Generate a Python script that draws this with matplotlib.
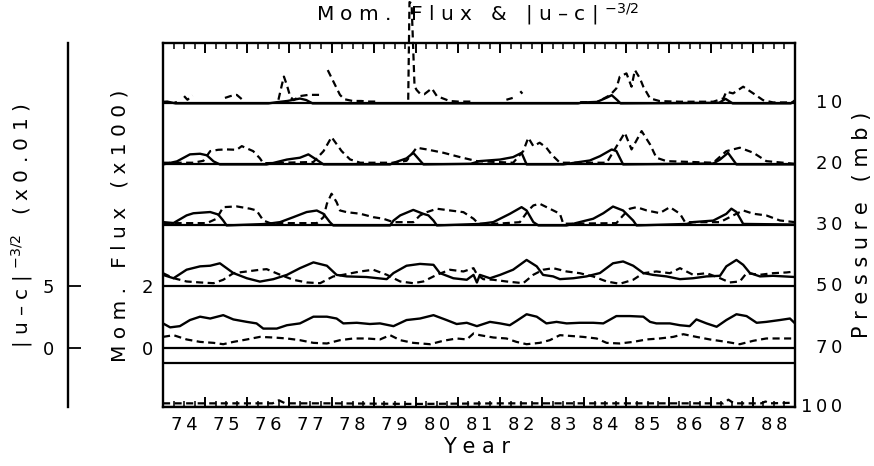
import numpy as np
import matplotlib
matplotlib.use("Agg")
from matplotlib import pyplot as plt

nan = np.nan

# pressure levels (mb), top panel first
LEVELS = ["10", "20", "30", "50", "70", "100"]
YEARS = list(range(1974, 1989))

# 10 mb
t_flux10 = [1974.0, 1974.1, 1974.3, 1976.5, 1976.7, 1976.95, 1977.25, 1977.4, 1977.55, 1983.85, 1983.95,
            1984.3, 1984.55, 1984.65, 1984.78, 1984.86, 1987.2, 1987.35, 1987.52, 1988.9, 1989.0]
flux10 = [0.05, 0.06, 0.0, 0.0, 0.04, 0.08, 0.16, 0.11, 0.0, 0.0, 0.03,
          0.05, 0.2, 0.27, 0.11, 0.0, 0.02, 0.15, 0.0, 0.0, 0.1]
t_uc10 = [1974.0, 1974.2, 1974.33, nan, 1974.5, 1974.58, 1974.7, nan, 1975.47, 1975.6, 1975.75, 1975.87, nan,
          1976.74, 1976.82, 1976.87, 1976.94, 1977.02, 1977.1, 1977.25, 1977.45, 1977.73, nan,
          1977.91, 1978.0, 1978.1, 1978.2, 1978.3, 1978.5, 1978.7, 1978.9, 1979.07, nan,
          1979.82, 1979.85, 1979.9, 1979.97, 1980.02, 1980.1, 1980.2, 1980.38, 1980.5, 1980.65, 1980.8,
          1981.0, 1981.2, 1981.4, nan, 1982.15, 1982.3, nan, 1982.48, 1982.53, nan,
          1983.9, 1984.3, 1984.61, 1984.76, 1984.84, 1985.0, 1985.12, 1985.2, 1985.32, 1985.4, 1985.56,
          1985.79, 1986.27, 1987.06, 1987.3, 1987.37, 1987.53, 1987.77, 1988.01, 1988.24, 1988.48, 1988.96]
uc10 = [0.1, 0.05, 0.1, nan, 0.6, 0.3, 0.65, nan, 0.45, 0.6, 0.7, 0.35, nan,
        0.3, 1.5, 2.2, 1.5, 0.55, 0.27, 0.6, 0.7, 0.7, nan,
        2.73, 2.1, 1.4, 0.7, 0.35, 0.2, 0.2, 0.15, 0.15, nan,
        0.3, 8.3, 8.2, 1.4, 1.1, 0.8, 0.75, 1.23, 0.6, 0.4, 0.2,
        0.15, 0.15, 0.15, nan, 0.3, 0.45, nan, 1.0, 0.8, nan,
        0.1, 0.1, 0.68, 1.23, 2.19, 2.46, 1.37, 2.73, 2.05, 1.37, 0.41,
        0.19, 0.14, 0.14, 0.41, 0.96, 0.82, 1.37, 0.82, 0.27, 0.08, 0.08]

# 20 mb
t_flux20 = [1974.0, 1974.33, 1974.64, 1974.88, 1975.04, 1975.2, 1975.35, 1976.46, 1976.62, 1976.94, 1977.25,
            1977.45, 1977.65, 1977.81, 1979.39, 1979.47, 1979.78, 1979.94, 1980.18, 1981.3, 1981.52, 1982.0,
            1982.31, 1982.51, 1982.63, 1983.5, 1983.74, 1984.13, 1984.37, 1984.65, 1984.76, 1984.92,
            1987.06, 1987.22, 1987.41, 1987.61, 1989.0]
flux20 = [0.0, 0.1, 0.33, 0.35, 0.3, 0.1, 0.0, 0.0, 0.05, 0.16, 0.22,
          0.33, 0.15, 0.0, 0.0, 0.05, 0.2, 0.38, 0.0, 0.02, 0.11, 0.16,
          0.24, 0.38, 0.0, 0.0, 0.05, 0.13, 0.27, 0.49, 0.44, 0.0,
          0.03, 0.16, 0.38, 0.0, 0.0]
t_uc20 = [1974.0, 1974.72, 1974.96, 1975.12, 1975.31, 1975.51, 1975.75, 1975.87, 1976.14, 1976.3, 1976.38,
          1977.57, 1977.81, 1978.0, 1978.24, 1978.44, 1978.68, 1979.47, 1979.78, 1980.02, 1980.26, 1980.65,
          1981.05, 1981.45, 1982.31, 1982.55, 1982.67, 1982.79, 1982.94, 1983.1, 1983.22, 1983.42,
          1984.53, 1984.84, 1984.96, 1985.12, 1985.36, 1985.56, 1985.71, 1985.95, 1987.06, 1987.37,
          1987.69, 1988.01, 1988.32, 1989.0]
uc20 = [0.14, 0.14, 0.3, 1.09, 1.2, 1.23, 1.2, 1.5, 1.09, 0.5, 0.1,
        0.2, 1.09, 2.24, 1.09, 0.41, 0.14, 0.14, 0.3, 1.37, 1.23, 0.96,
        0.6, 0.27, 0.14, 1.09, 2.19, 1.5, 1.78, 1.37, 0.82, 0.14,
        0.14, 1.91, 2.6, 1.23, 2.73, 1.64, 0.55, 0.27, 0.14, 1.09,
        1.37, 0.96, 0.27, 0.05]

# 30 mb
t_flux30 = [1974.0, 1974.25, 1974.56, 1974.72, 1975.12, 1975.31, 1975.43, 1975.51, 1976.46, 1976.78, 1977.09,
            1977.41, 1977.65, 1977.81, 1977.96, 1978.04, 1979.39, 1979.47, 1979.63, 1979.94, 1980.18, 1980.3,
            1980.42, 1980.5, 1981.52, 1981.84, 1982.23, 1982.51, 1982.63, 1982.79, 1982.91, 1983.58,
            1983.89, 1984.21, 1984.45, 1984.68, 1984.92, 1985.16, 1985.24, 1986.43, 1986.58, 1987.06,
            1987.37, 1987.49, 1987.61, 1987.77, 1989.0]
flux30 = [0.11, 0.08, 0.33, 0.40, 0.44, 0.36, 0.16, 0.0, 0.05, 0.11, 0.27,
          0.44, 0.49, 0.38, 0.11, 0.0, 0.0, 0.16, 0.33, 0.51, 0.38, 0.33,
          0.16, 0.0, 0.05, 0.11, 0.38, 0.6, 0.49, 0.11, 0.0, 0.0,
          0.11, 0.22, 0.40, 0.62, 0.49, 0.16, 0.0, 0.05, 0.11, 0.16,
          0.38, 0.55, 0.44, 0.05, 0.03]
t_uc30 = [1974.0, 1975.04, 1975.27, 1975.43, 1975.75, 1976.07, 1976.22, 1976.38, 1976.54, 1977.65, 1977.81,
          1977.89, 1978.0, 1978.12, 1978.2, 1978.36, 1978.68, 1978.99, 1979.23, 1979.47, 1979.94, 1980.1,
          1980.26, 1980.5, 1980.81, 1981.13, 1981.37, 1981.49, 1981.92, 1982.47, 1982.67, 1982.79,
          1982.94, 1983.18, 1983.42, 1983.5, 1984.76, 1984.92, 1985.08, 1985.24, 1985.48, 1985.79,
          1986.03, 1986.27, 1986.39, 1987.22, 1987.53, 1987.77, 1988.01, 1988.32, 1988.64, 1989.0]
uc30 = [0.19, 0.19, 0.55, 1.5, 1.56, 1.37, 1.23, 0.41, 0.19, 0.19, 0.68,
        1.78, 2.6, 1.91, 1.23, 1.09, 0.96, 0.68, 0.55, 0.27, 0.27, 0.82,
        1.09, 1.37, 1.23, 1.09, 0.55, 0.14, 0.14, 0.27, 1.23, 1.64,
        1.78, 1.37, 0.96, 0.14, 0.19, 0.82, 1.37, 1.5, 1.23, 1.01,
        1.5, 0.96, 0.27, 0.27, 0.82, 1.23, 0.96, 0.82, 0.41, 0.27]

# 50 mb
t_flux50 = [1974.0, 1974.25, 1974.56, 1974.88, 1975.12, 1975.35, 1975.51, 1975.67, 1975.99, 1976.3, 1976.62,
            1976.94, 1977.25, 1977.57, 1977.89, 1978.12, 1978.36, 1978.83, 1979.31, 1979.47, 1979.78, 1980.1,
            1980.42, 1980.57, 1980.89, 1981.21, 1981.37, 1981.45, 1981.52, 1981.76, 1982.0, 1982.31,
            1982.63, 1982.87, 1983.02, 1983.26, 1983.42, 1983.74, 1984.05, 1984.37, 1984.68, 1984.92,
            1985.16, 1985.4, 1985.63, 1985.95, 1986.27, 1986.58, 1986.9, 1987.22, 1987.37, 1987.61,
            1987.77, 1987.93, 1988.17, 1988.48, 1989.0]
flux50 = [0.38, 0.27, 0.55, 0.66, 0.68, 0.76, 0.6, 0.44, 0.27, 0.16, 0.24,
          0.38, 0.6, 0.79, 0.68, 0.38, 0.33, 0.31, 0.24, 0.44, 0.68, 0.74,
          0.71, 0.44, 0.27, 0.22, 0.38, 0.13, 0.38, 0.27, 0.38, 0.55,
          0.87, 0.66, 0.38, 0.33, 0.24, 0.27, 0.33, 0.44, 0.76, 0.82,
          0.68, 0.44, 0.38, 0.33, 0.24, 0.27, 0.33, 0.35, 0.66, 0.87,
          0.71, 0.44, 0.33, 0.35, 0.31]
t_uc50 = [1974.0, 1974.25, 1974.56, 1974.88, 1975.2, 1975.43, 1975.67, 1975.99, 1976.3, 1976.46, 1976.78,
          1977.09, 1977.41, 1977.73, 1978.04, 1978.28, 1978.68, 1978.99, 1979.31, 1979.63, 1979.94, 1980.18,
          1980.5, 1980.81, 1981.13, 1981.37, 1981.45, 1981.6, 1981.84, 1982.15, 1982.55, 1982.79,
          1983.02, 1983.26, 1983.58, 1983.89, 1984.21, 1984.53, 1984.84, 1985.16, 1985.4, 1985.71,
          1986.03, 1986.27, 1986.58, 1986.9, 1987.22, 1987.45, 1987.69, 1987.85, 1988.17, 1988.48,
          1988.8, 1989.0]
uc50 = [1.09, 0.68, 0.41, 0.33, 0.27, 0.55, 1.09, 1.23, 1.37, 1.42, 0.96,
        0.55, 0.33, 0.27, 0.82, 0.96, 1.23, 1.37, 0.96, 0.41, 0.27, 0.41,
        0.96, 1.37, 1.23, 1.5, 1.0, 0.6, 0.55, 0.41, 0.27, 0.96,
        1.37, 1.5, 1.23, 1.09, 0.82, 0.41, 0.22, 0.55, 1.09, 1.23,
        1.09, 1.5, 0.96, 1.09, 0.68, 0.33, 0.41, 1.09, 0.96, 1.09,
        1.15, 1.23]

# 70 mb
t_flux70 = [1974.0, 1974.17, 1974.4, 1974.64, 1974.88, 1975.12, 1975.43, 1975.67, 1975.99, 1976.22, 1976.38,
            1976.7, 1976.94, 1977.25, 1977.57, 1977.89, 1978.12, 1978.28, 1978.6, 1978.91, 1979.15, 1979.47,
            1979.78, 1980.1, 1980.42, 1980.73, 1980.97, 1981.21, 1981.45, 1981.76, 1982.0, 1982.23,
            1982.39, 1982.63, 1982.87, 1983.1, 1983.34, 1983.58, 1983.89, 1984.21, 1984.45, 1984.76,
            1985.08, 1985.4, 1985.56, 1985.71, 1986.03, 1986.27, 1986.5, 1986.66, 1986.9, 1987.14,
            1987.37, 1987.61, 1987.85, 1988.09, 1988.32, 1988.64, 1988.88, 1989.0]
flux70 = [0.79, 0.66, 0.7, 0.9, 1.01, 0.95, 1.06, 0.92, 0.84, 0.79, 0.62,
          0.62, 0.73, 0.79, 1.01, 1.01, 0.95, 0.79, 0.81, 0.77, 0.79, 0.7,
          0.9, 0.95, 1.06, 0.9, 0.77, 0.81, 0.7, 0.84, 0.79, 0.73,
          0.87, 1.09, 1.01, 0.79, 0.84, 0.79, 0.81, 0.81, 0.79, 1.03,
          1.03, 1.01, 0.84, 0.79, 0.79, 0.73, 0.7, 0.92, 0.79, 0.68,
          0.9, 1.09, 1.03, 0.81, 0.84, 0.9, 0.95, 0.79]
t_uc70 = [1974.0, 1974.25, 1974.56, 1974.88, 1975.2, 1975.43, 1975.67, 1975.99, 1976.3, 1976.62, 1976.94,
          1977.25, 1977.57, 1977.89, 1978.2, 1978.52, 1978.83, 1979.15, 1979.39, 1979.63, 1979.94, 1980.34,
          1980.65, 1980.97, 1981.21, 1981.37, 1981.52, 1981.84, 1982.15, 1982.39, 1982.63, 1982.94,
          1983.18, 1983.42, 1983.74, 1983.97, 1984.29, 1984.53, 1984.84, 1985.16, 1985.48, 1985.79,
          1986.11, 1986.35, 1986.66, 1986.98, 1987.37, 1987.69, 1988.01, 1988.32, 1988.64, 1989.0]
uc70 = [0.87, 1.01, 0.66, 0.46, 0.38, 0.27, 0.46, 0.66, 0.87, 0.82, 0.74,
        0.6, 0.38, 0.33, 0.6, 0.74, 0.74, 0.66, 1.01, 0.6, 0.38, 0.27,
        0.55, 0.74, 0.66, 1.15, 1.01, 0.82, 0.74, 0.46, 0.27, 0.38,
        0.6, 1.01, 0.93, 0.87, 0.74, 0.38, 0.33, 0.46, 0.66, 0.74,
        0.87, 1.09, 0.87, 0.66, 0.46, 0.27, 0.55, 0.74, 0.74, 0.74]

# 100 mb (only |u-c| visible, hugging the bottom)
t_uc100 = [1974.0, 1975.0, 1976.0, 1976.6, 1976.75, 1976.9, 1978.0, 1980.0, 1982.0, 1984.0, 1986.0,
           1987.3, 1987.42, 1987.55, 1988.2, 1988.3, 1988.4, 1989.0]
uc100 = [0.3, 0.3, 0.3, 0.3, 0.55, 0.3, 0.3, 0.25, 0.3, 0.3, 0.3,
         0.3, 0.6, 0.3, 0.3, 0.45, 0.3, 0.35]

FLUX = [(t_flux10, flux10), (t_flux20, flux20), (t_flux30, flux30), (t_flux50, flux50), (t_flux70, flux70), None]
UC = [(t_uc10, uc10), (t_uc20, uc20), (t_uc30, uc30), (t_uc50, uc50), (t_uc70, uc70), (t_uc100, uc100)]

OFFSETS = [8.0, 6.0, 4.0, 2.0, 0.0, -1.95]   # panel baselines in flux units
UC_SCALE = 0.4                               # 5 |u-c| units = 2 flux units
YLIM = (-1.95, 9.98)

plt.rcParams['font.family'] = ['DejaVu Sans']
plt.rcParams['mathtext.fontset'] = 'dejavusans'

W, H = 874, 466
fig = plt.figure(figsize=(W / 100, H / 100), dpi=100)
ax = fig.add_axes([163 / W, 59 / H, 632 / W, 364 / H])
ax.set_xlim(1974, 1989)
ax.set_ylim(*YLIM)

for off, fl, uc in zip(OFFSETS, FLUX, UC):
    ax.axhline(off, color='k', lw=1.6)
    if fl is not None:
        ax.plot(fl[0], off + np.array(fl[1]), color='k', lw=1.7)
    ax.plot(uc[0], off + UC_SCALE * np.array(uc[1]), color='k', lw=1.6,
            ls=(0, (3.2, 2.0)), clip_on=(off != 8.0))
ax.axhline(-0.51, color='k', lw=1.6)

for s in ax.spines.values():
    s.set_linewidth(1.7)

ax.set_xticks(YEARS + [1989])
ax.set_xticks(np.arange(1974, 1989.01, 0.25), minor=True)
ax.tick_params(axis='x', which='major', direction='in', length=7, width=1.4,
               top=True, bottom=True, labelbottom=False)
ax.tick_params(axis='x', which='minor', direction='in', length=4, width=1.1,
               top=True, bottom=True)
for yr in YEARS:
    ax.text(yr + 0.5, -0.05, "\u2009".join(str(yr % 100)), transform=ax.get_xaxis_transform(),
            ha='center', va='center', fontsize=13)

ax.set_yticks(OFFSETS)
ax.set_yticklabels(["", "", "", "2", "0", ""])
ax.tick_params(axis='y', direction='in', length=5, width=1.2, left=True, right=True,
               pad=7, labelsize=13)
for off, lev in zip(OFFSETS, LEVELS):
    ax.text(1.0744, off, "\u2009".join(lev), transform=ax.get_yaxis_transform(),
            ha='right', va='center', fontsize=13)

# outer |u-c| scale
ax2 = fig.add_axes([68 / W, 59 / H, 0.0005, 364 / H])
ax2.set_ylim(YLIM[0] / UC_SCALE, YLIM[1] / UC_SCALE)
ax2.set_xticks([])
for k in ['top', 'right', 'bottom']:
    ax2.spines[k].set_visible(False)
ax2.spines['left'].set_linewidth(1.7)
ax2.set_yticks([0, 5])
ax2.tick_params(axis='y', direction='in', length=9, width=1.3, pad=10, labelsize=13)
ax2.patch.set_visible(False)

fig.text(478 / W, 1 - 14 / H, "M o m .   F l u x   &   | u \u2013 c | $^{-3/2}$",
         ha='center', va='center', fontsize=14.5)
fig.text(477 / W, 1 - 447 / H, "Y e a r", ha='center', va='center', fontsize=15)
fig.text(120 / W, 1 - 226 / H, "M o m .   F l u x   ( x 1 0 0 )", rotation=90,
         ha='center', va='center', fontsize=14.5)
fig.text(22 / W, 1 - 226 / H, "| u \u2013 c | $^{-3/2}$   ( x 0 . 0 1 )", rotation=90,
         ha='center', va='center', fontsize=14.5)
fig.text(862 / W, 1 - 225 / H, "P r e s s u r e   ( m b )", rotation=90,
         ha='center', va='center', fontsize=15)

fig.savefig("out.png", dpi=100)
